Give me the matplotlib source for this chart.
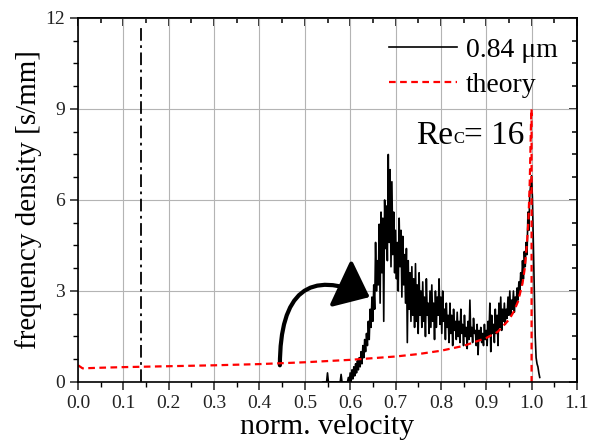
import numpy as np
import matplotlib
matplotlib.use("Agg")
import matplotlib.pyplot as plt
from matplotlib.patches import FancyArrowPatch

plt.rcParams['font.family'] = ['Liberation Serif', 'DejaVu Serif']
plt.rcParams['mathtext.fontset'] = 'stix'

# measured histogram, bins of 0.002 starting at 0.540
bin_start = 0.540
bin_width = 0.002
freq = [
    0, 0, 0, 0, 0, 0.3, 0, 0, 0, 0,
    0, 0, 0, 0, 0, 0, 0, 0, 0, 0,
    0.25, 0, 0, 0, 0, 0, 0, 0, 0.15, 0,
    0.3, 0, 0.4, 0.1, 0.5, 0.2, 0.6, 0.3, 0.7, 0.4,
    0.8, 0.5, 1.0, 0.6, 1.2, 0.8, 1.4, 1.0, 1.6, 1.2,
    2.0, 1.4, 2.4, 1.8, 2.8, 2.0, 3.2, 2.4, 4.6, 3.0,
    4.0, 3.2, 5.2, 2.6, 5.6, 3.6, 5.4, 2.0, 6.0, 4.4,
    5.8, 4.0, 7.5, 4.6, 7.0, 3.8, 6.6, 4.2, 5.6, 3.6,
    5.0, 3.4, 4.6, 3.0, 5.4, 3.8, 5.0, 2.8, 4.8, 3.2,
    4.2, 2.6, 4.4, 1.3, 4.0, 2.4, 3.6, 2.0, 3.8, 2.2,
    3.4, 1.8, 3.9, 2.0, 3.2, 1.6, 3.6, 2.2, 3.0, 1.8,
    3.3, 2.0, 2.8, 1.5, 3.4, 2.2, 2.6, 1.6, 3.0, 1.8,
    3.2, 2.0, 2.6, 1.4, 3.0, 1.8, 2.8, 2.2, 3.4, 1.9,
    2.8, 1.6, 3.0, 2.0, 2.4, 1.4, 2.6, 1.8, 2.2, 1.3,
    2.6, 1.6, 2.2, 1.2, 2.4, 1.7, 2.0, 1.4, 2.3, 1.5,
    2.0, 1.3, 2.4, 1.6, 1.9, 1.2, 2.2, 1.5, 1.8, 1.1,
    2.0, 1.4, 2.7, 1.5, 1.8, 1.3, 2.1, 1.6, 1.7, 1.2,
    1.9, 0.9, 1.7, 1.4, 1.8, 1.3, 1.6, 1.2, 1.9, 1.4,
    1.7, 1.2, 2.0, 1.5, 2.6, 1.0, 2.2, 1.6, 1.9, 1.3,
    2.4, 1.6, 2.2, 1.2, 2.6, 1.8, 2.8, 1.7, 2.4, 2.0,
    2.6, 1.9, 2.4, 2.1, 2.8, 2.2, 3.0, 2.2, 2.7, 2.4,
    3.0, 2.3, 2.8, 2.5, 3.1, 2.7, 3.3, 2.9, 3.6, 3.2,
    4.0, 3.4, 4.3, 3.8, 4.6, 4.2, 5.6, 5.0, 6.2, 6.5,
    6.8, 6.0, 4.5, 3.0, 1.5, 0.8, 0.6, 0.5, 0.3, 0.15,
]
vel = bin_start + bin_width * np.arange(len(freq))

# theory curve
theory_v = [0.0, 0.01, 0.05, 0.1, 0.2, 0.3, 0.4, 0.5, 0.6, 0.7, 0.75, 0.8,
            0.85, 0.9, 0.925, 0.95, 0.96, 0.97, 0.98, 0.985, 0.99, 0.993,
            0.996, 0.998, 0.9995, 1.0, 1.0]
theory_f = [0.55, 0.45, 0.47, 0.49, 0.52, 0.55, 0.59, 0.65, 0.73, 0.84, 0.92,
            1.03, 1.19, 1.45, 1.65, 2.05, 2.3, 2.65, 3.25, 3.75, 4.6, 5.3,
            6.6, 8.0, 9.0, 9.0, 0.0]

v_marker = 0.139

fig = plt.figure(figsize=(5.96, 4.45), dpi=100)
ax = fig.add_axes([0.131, 0.1416, 0.837, 0.818])

ax.grid(True, color='#b4b4b4', lw=0.8)
ax.set_axisbelow(True)

ax.plot(vel, freq, color='black', lw=1.2, label='0.84 μm')
ax.plot(theory_v, theory_f, color='red', lw=1.6, ls=(0, (3, 2)), label='theory')
ax.plot([v_marker, v_marker], [0, 11.8], color='black', lw=1.3,
        ls=(0, (7, 2.5, 1.5, 2.5)))

# curved arrow: leaves vertically, lands heading slightly downward
arrow = FancyArrowPatch(posA=(0.445, 0.55), posB=(0.643, 2.8),
                        connectionstyle='angle3,angleA=90,angleB=-25',
                        arrowstyle='-|>,head_length=1.1,head_width=0.9',
                        mutation_scale=18, lw=3, color='black',
                        shrinkA=0, shrinkB=0)
ax.add_patch(arrow)

ax.set_xlim(0, 1.1)
ax.set_ylim(0, 12)
ax.set_xticks(np.arange(0, 1.11, 0.1))
ax.set_xticklabels([f"{t:.1f}" for t in np.arange(0, 1.11, 0.1)])
ax.set_yticks([0, 3, 6, 9, 12])
ax.set_xticks(np.arange(0.05, 1.1, 0.1), minor=True)
ax.set_yticks([t for t in np.arange(0, 12.01, 0.75) if t % 3 != 0], minor=True)
ax.tick_params(which='major', direction='out', length=6, width=1.1,
               labelsize=14, colors='#222222')
ax.tick_params(which='minor', direction='out', length=3.5, width=1.0)
ax.grid(False, which='minor')

# inward ticks on top and right
top = ax.secondary_xaxis('top')
top.set_xticks(np.arange(0, 1.11, 0.1))
top.set_xticks(np.arange(0.05, 1.1, 0.1), minor=True)
top.tick_params(which='both', direction='in', labeltop=False, width=1.1)
top.tick_params(which='major', length=6)
top.tick_params(which='minor', length=3.5)
right = ax.secondary_yaxis('right')
right.set_yticks([0, 3, 6, 9, 12])
right.set_yticks([t for t in np.arange(0, 12.01, 0.75) if t % 3 != 0], minor=True)
right.tick_params(which='both', direction='in', labelright=False, width=1.1)
right.tick_params(which='major', length=6)
right.tick_params(which='minor', length=3.5)

for a in (ax, top, right):
    for s in a.spines.values():
        s.set_linewidth(1.2)

ax.set_xlabel('norm. velocity', fontsize=21.5, labelpad=1)
ax.set_ylabel('frequency density [s/mm]', fontsize=21, labelpad=2)

leg = ax.legend(loc='upper right', frameon=False, fontsize=20,
                handlelength=2.45, handletextpad=0.3, labelspacing=0.35,
                borderaxespad=0.3)

t1 = ax.text(0.745, 7.85, 'Re', fontsize=24, va='baseline')
t2 = ax.annotate('C', xy=(1, 0), xycoords=t1, fontsize=12,
                 va='bottom', ha='left', xytext=(0, 3), textcoords='offset points')
ax.annotate('= 16', xy=(1, 0), xycoords=t2, fontsize=24,
            va='bottom', ha='left', xytext=(0, -3), textcoords='offset points')

fig.savefig('out.png', dpi=100)
